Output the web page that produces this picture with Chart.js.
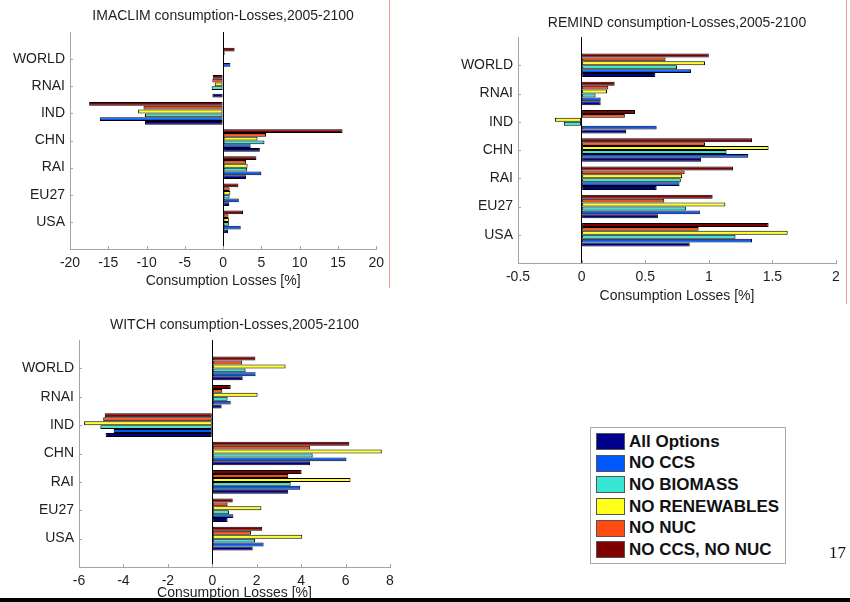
<!DOCTYPE html>
<html>
<head>
<meta charset="utf-8">
<script src="https://cdn.jsdelivr.net/npm/chart.js@4/dist/chart.umd.min.js"></script>
<style>
  html, body { margin: 0; padding: 0; background: #fff; }
  body { position: relative; width: 850px; height: 602px; overflow: hidden;
         font-family: "Liberation Sans", Arial, sans-serif; }
  canvas.panel { position: absolute; }
  .rule-red { position: absolute; width: 1px; background: #f29a9a; }
  #footer-rule { position: absolute; left: 0; top: 598px; width: 850px; height: 4px; background: #000; z-index: 5; }
  #legend { position: absolute; left: 590px; top: 427px; width: 196px; height: 137px;
            border: 1px solid #a8a8a8; box-sizing: border-box; padding-top: 3px; }
  .lg-row { height: 21.6px; display: flex; align-items: center; }
  .lg-swatch { width: 29px; height: 17px; margin-left: 5px; margin-right: 4px;
               box-sizing: border-box; border: 1px solid #555; }
  .lg-text { font: bold 17px "Liberation Sans", Arial, sans-serif; color: #111; white-space: nowrap; }
  #page-no { position: absolute; left: 829px; top: 543px; font: 17px "Liberation Serif", "Times New Roman", serif; color: #111; }
</style>
</head>
<body>
<canvas id="imaclim" class="panel" width="390" height="290" style="left:0px;top:0px"></canvas>
<canvas id="remind" class="panel" width="420" height="305" style="left:430px;top:0px"></canvas>
<canvas id="witch" class="panel" width="400" height="297" style="left:0px;top:305px"></canvas>
<div class="rule-red" style="left:389px;top:0;height:288px"></div>
<div class="rule-red" style="left:846px;top:0;height:304px"></div>
<div id="legend"></div>
<div id="page-no">17</div>
<div id="footer-rule"></div>

<script>
// Regions on the vertical axis (top to bottom)
const regions = ['WORLD', 'RNAI', 'IND', 'CHN', 'RAI', 'EU27', 'USA'];

// Technology scenarios, legend order
const scenarios = ['All Options', 'NO CCS', 'NO BIOMASS', 'NO RENEWABLES', 'NO NUC', 'NO CCS, NO NUC'];
const scenarioColors = ['#00008c', '#0058ff', '#38e6d4', '#ffff1a', '#ff4a10', '#800000'];

// Consumption losses [%], 2005-2100, one row per scenario (legend order), one value per region
const imaclimLosses = [
  [0.05, -1.4, -10.2, 4.8, 3.0, 0.8, 0.65],
  [0.95, -0.05, -16.1, 3.6, 5.0, 2.05, 2.3],
  [0.05, -1.5, -10.2, 5.4, 3.15, 0.85, 0.75],
  [0.12, -1.1, -11.1, 4.5, 3.2, 0.95, 0.75],
  [0.2, -1.4, -10.4, 5.6, 3.0, 0.85, 0.7],
  [1.5, -1.35, -17.5, 15.6, 4.35, 2.0, 2.6]
];
const remindLosses = [
  [0.58, 0.15, 0.35, 0.94, 0.59, 0.60, 0.85],
  [0.86, 0.15, 0.59, 1.31, 0.77, 0.93, 1.34],
  [0.75, 0.11, -0.14, 1.14, 0.78, 0.82, 1.21],
  [0.97, 0.20, -0.21, 1.47, 0.79, 1.13, 1.62],
  [0.66, 0.21, 0.34, 0.97, 0.81, 0.65, 0.92],
  [1.00, 0.26, 0.42, 1.34, 1.19, 1.03, 1.47]
];
const witchLosses = [
  [1.37, 0.42, -4.80, 4.40, 3.42, 0.69, 1.82],
  [1.95, 0.83, -4.44, 6.04, 3.96, 0.95, 2.31],
  [1.50, 0.69, -5.04, 4.52, 3.53, 0.75, 1.92],
  [3.30, 2.04, -5.77, 7.63, 6.22, 2.21, 4.05],
  [1.35, 0.45, -4.91, 4.41, 3.42, 0.69, 1.74],
  [1.94, 0.83, -4.84, 6.17, 4.02, 0.92, 2.25]
];

// Horizontal axis tick values
const imaclimTicks = [-20, -15, -10, -5, 0, 5, 10, 15, 20];
const remindTicks = [-0.5, 0, 0.5, 1, 1.5, 2];
const witchTicks = [-6, -4, -2, 0, 2, 4, 6, 8];

const FONT = '"Liberation Sans", Arial, sans-serif';
const TEXT = '#1e1e1e';
const AXIS = '#a4a4a4';

// Short tick marks pointing into the plot
const innerTicks = {
  id: 'innerTicks',
  afterDraw(chart) {
    const { ctx, chartArea: a, scales: { x, y } } = chart;
    ctx.save();
    ctx.strokeStyle = AXIS;
    ctx.lineWidth = 1;
    ctx.beginPath();
    x.ticks.forEach(t => {
      const p = Math.round(x.getPixelForValue(t.value)) + 0.5;
      ctx.moveTo(p, a.bottom);
      ctx.lineTo(p, a.bottom - 3);
    });
    y.ticks.forEach(t => {
      const p = Math.round(y.getPixelForValue(t.value)) + 0.5;
      ctx.moveTo(a.left, p);
      ctx.lineTo(a.left + 3, p);
    });
    ctx.stroke();
    ctx.restore();
  }
};

function makePanel(canvasId, title, losses, xTicks, layout) {
  // topmost bar in each group is the last scenario
  const order = scenarios.map((_, i) => i).reverse();
  const datasets = order.map(i => ({
    label: scenarios[i],
    data: regions.map((_, r) => ({ x: losses[i][r], y: r + 1 })),
    backgroundColor: scenarioColors[i],
    borderColor: '#000',
    borderWidth: 1,
    borderSkipped: false,
    categoryPercentage: 0.83,
    barPercentage: 1.0
  }));

  return new Chart(document.getElementById(canvasId), {
    type: 'bar',
    data: { datasets },
    plugins: [innerTicks],
    options: {
      indexAxis: 'y',
      responsive: false,
      animation: false,
      events: [],
      layout: { padding: { left: 0, right: layout.padRight, top: 0, bottom: 0 } },
      plugins: {
        legend: { display: false },
        tooltip: { enabled: false },
        title: {
          display: true,
          text: title,
          fullSize: false,
          color: TEXT,
          font: { family: FONT, size: 14, weight: 'normal' },
          padding: { top: layout.titleTop, bottom: layout.titleBottom }
        }
      },
      scales: {
        x: {
          type: 'linear',
          position: 'bottom',
          min: xTicks[0],
          max: xTicks[xTicks.length - 1],
          afterBuildTicks: s => { s.ticks = xTicks.map(v => ({ value: v })); },
          afterFit: s => { s.height = layout.xAxisHeight; },
          ticks: {
            color: TEXT,
            font: { family: FONT, size: 14 },
            padding: 6,
            maxRotation: 0,
            callback: v => String(v)
          },
          grid: {
            drawTicks: false,
            lineWidth: 1,
            color: c => (c.tick && c.tick.value === 0 ? '#000' : 'rgba(0,0,0,0)')
          },
          border: { display: true, color: AXIS, width: 1 },
          title: {
            display: true,
            text: 'Consumption Losses [%]',
            color: TEXT,
            font: { family: FONT, size: 14 },
            padding: { top: 0, bottom: 0 }
          }
        },
        y: {
          type: 'linear',
          reverse: true,
          offset: false,
          min: 0,
          max: regions.length + 1,
          afterBuildTicks: s => { s.ticks = regions.map((_, i) => ({ value: i + 1 })); },
          afterFit: s => { s.width = layout.yAxisWidth; },
          ticks: {
            color: TEXT,
            font: { family: FONT, size: 14 },
            padding: 5,
            callback: v => regions[v - 1] || ''
          },
          grid: { drawTicks: false, drawOnChartArea: false, color: 'rgba(0,0,0,0)' },
          border: { display: true, color: AXIS, width: 1 }
        }
      }
    }
  });
}

makePanel('imaclim', 'IMACLIM consumption-Losses,2005-2100', imaclimLosses, imaclimTicks,
  { padRight: 11, yAxisWidth: 70, xAxisHeight: 41, titleTop: 7.6, titleBottom: 7.6 });
makePanel('remind', 'REMIND consumption-Losses,2005-2100', remindLosses, remindTicks,
  { padRight: 14, yAxisWidth: 88, xAxisHeight: 42, titleTop: 14.3, titleBottom: 5.9 });
makePanel('witch', 'WITCH consumption-Losses,2005-2100', witchLosses, witchTicks,
  { padRight: 10, yAxisWidth: 79, xAxisHeight: 35, titleTop: 11.6, titleBottom: 6.6 });

// Shared legend box
const legend = document.getElementById('legend');
scenarios.forEach((name, i) => {
  const row = document.createElement('div');
  row.className = 'lg-row';
  const sw = document.createElement('div');
  sw.className = 'lg-swatch';
  sw.style.background = scenarioColors[i];
  const tx = document.createElement('span');
  tx.className = 'lg-text';
  tx.textContent = name;
  row.appendChild(sw);
  row.appendChild(tx);
  legend.appendChild(row);
});
</script>
</body>
</html>
